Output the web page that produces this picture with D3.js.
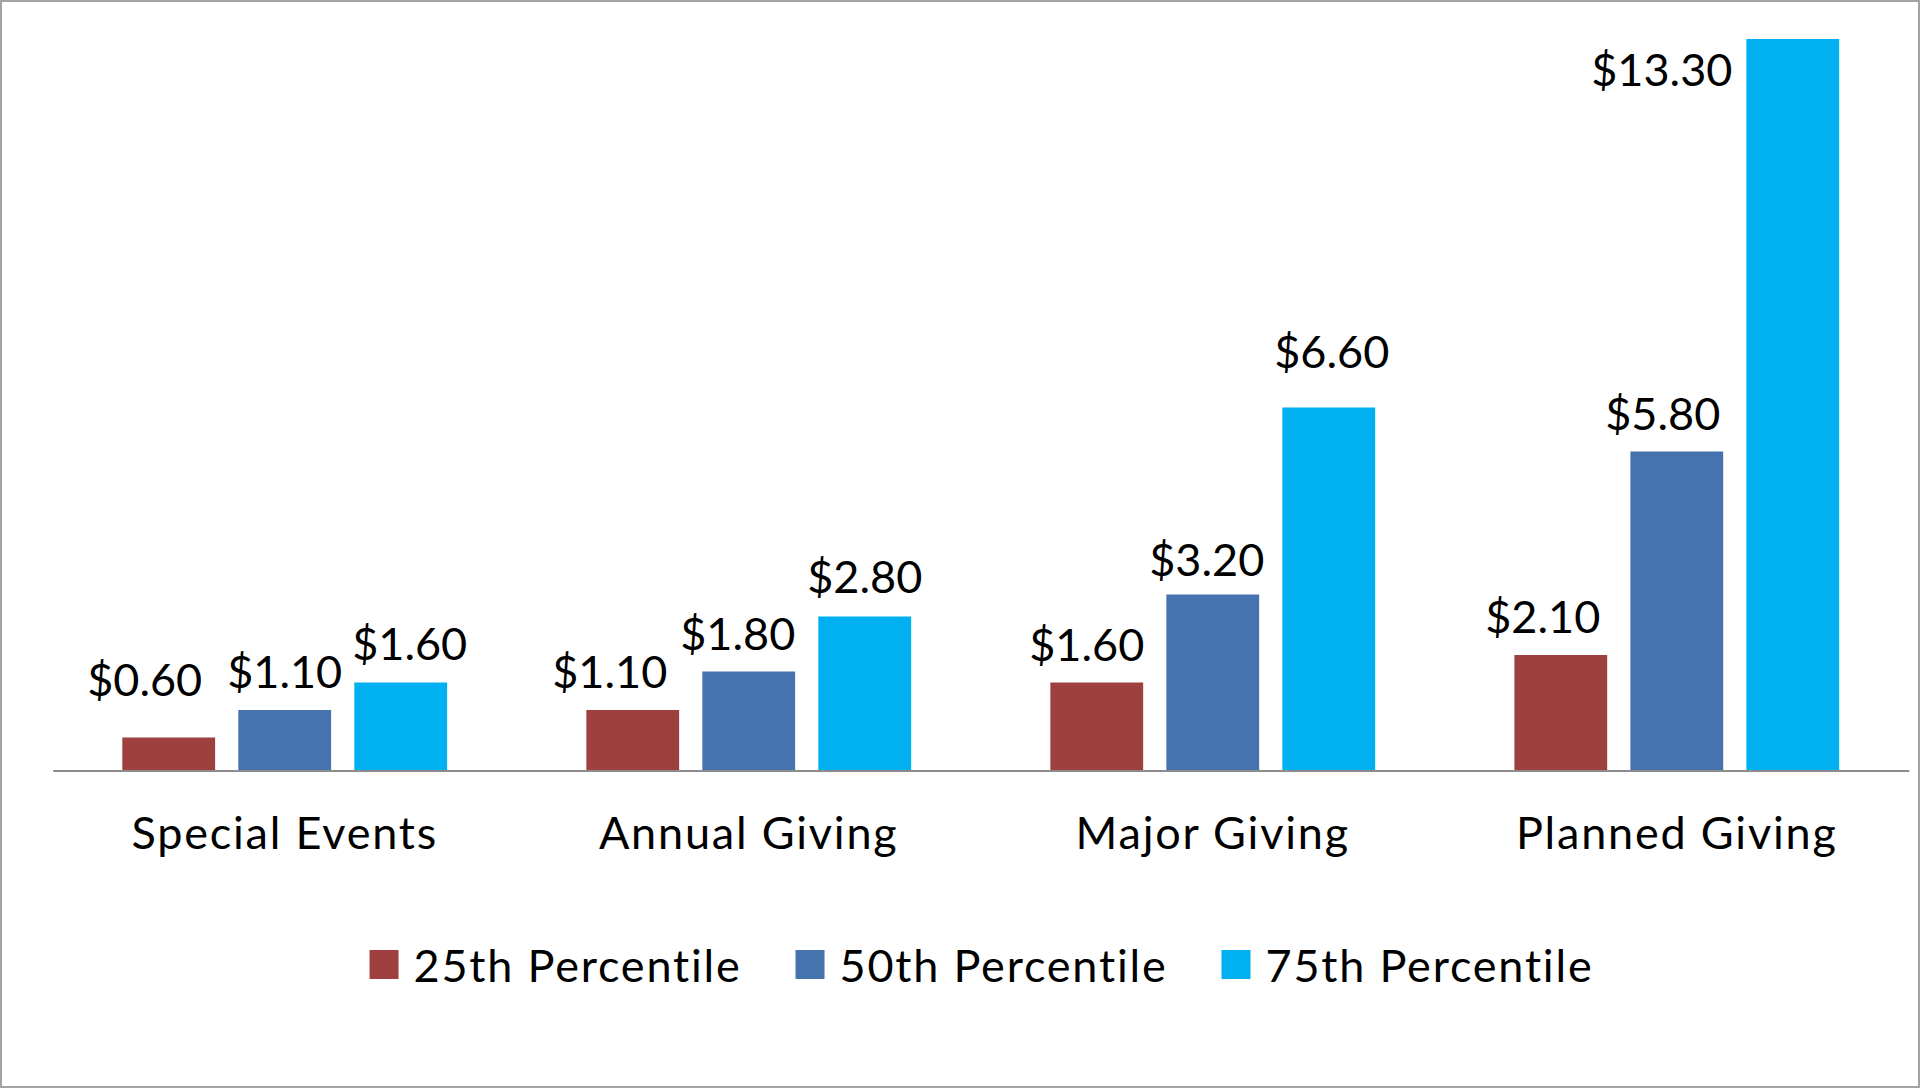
<!DOCTYPE html>
<html>
<head>
<meta charset="utf-8">
<script src="https://cdn.jsdelivr.net/npm/d3@7"></script>
<style>
  html, body { margin: 0; padding: 0; background: #fff; }
  svg { display: block; font-family: Lato, 'Open Sans', sans-serif; font-variant-ligatures: none; }
</style>
</head>
<body>
<svg id="chart" width="1921" height="1089"></svg>
<script>
const categories = ['Special Events', 'Annual Giving', 'Major Giving', 'Planned Giving']
const seriesNames = ['25th Percentile', '50th Percentile', '75th Percentile']
const p25 = [0.60, 1.10, 1.60, 2.10]
const p50 = [1.10, 1.80, 3.20, 5.80]
const p75 = [1.60, 2.80, 6.60, 13.30]
const seriesColors = ['#9E413E', '#4573AD', '#00B0F0']

// hand placed label nudges from the original [dx, dy], per category then series
const labelNudge = [
    [[-24, -20], [0, 0], [9, -1]],
    [[-23, 0], [-11, 0], [0, -2]],
    [[-10, 0], [-6, 3], [3, -18]],
    [[-18, 0], [-14, 0], [-131, 69]],
]

const width = 1921
const height = 1089
const axisY = 770.5
const plotLeft = 52.7
const plotRight = 1908.8

const svg = d3.select('#chart')

svg.append('rect')
    .attr('x', 1).attr('y', 1)
    .attr('width', width - 3).attr('height', height - 3)
    .attr('fill', '#fff')
    .attr('stroke', '#a3a3a3')
    .attr('stroke-width', 2)

const values = [p25, p50, p75]
const rows = categories.map((c, i) => ({
    category: c,
    vals: seriesNames.map((s, j) => ({series: s, idx: j, value: values[j][i], cat: i}))
}))

const xScale = d3.scaleBand().domain(categories).range([plotLeft, plotRight])
const subScale = d3.scaleBand().domain(seriesNames).range([0, xScale.bandwidth()])
    .paddingInner(0.2).paddingOuter(0.6)
const yScale = d3.scaleLinear().domain([0, 14]).range([axisY, 0.5])
const color = d3.scaleOrdinal().domain(seriesNames).range(seriesColors)

const groups = svg.append('g')
    .selectAll('g')
    .data(rows)
    .enter()
    .append('g')
    .attr('transform', d => `translate(${xScale(d.category)},0)`)

groups.selectAll('rect')
    .data(d => d.vals)
    .enter()
    .append('rect')
    .attr('x', d => subScale(d.series))
    .attr('y', d => yScale(d.value))
    .attr('width', subScale.bandwidth())
    .attr('height', d => yScale(0) - yScale(d.value))
    .style('fill', d => color(d.series))

groups.selectAll('text')
    .data(d => d.vals)
    .enter()
    .append('text')
    .attr('x', d => subScale(d.series) + subScale.bandwidth() / 2 + labelNudge[d.cat][d.idx][0])
    .attr('y', d => yScale(d.value) - 22 + labelNudge[d.cat][d.idx][1])
    .attr('text-anchor', 'middle')
    .style('font-size', '45px')
    .style('fill', '#000')
    .text(d => '$' + d.value.toFixed(2))

const xAxis = svg.append('g')
    .attr('transform', `translate(0,${axisY})`)
    .call(d3.axisBottom(xScale).tickSize(0).tickPadding(47))

xAxis.select('.domain')
    .attr('stroke', '#8c8c8c')
    .attr('stroke-width', 2)
xAxis.selectAll('text')
    .style('font-family', 'Lato, sans-serif')
    .style('font-size', '45px')
    .style('letter-spacing', '1.8px')
    .style('fill', '#000')

// legend, laid out from measured text widths
const legend = svg.append('g')
const items = legend.selectAll('g')
    .data(seriesNames)
    .enter()
    .append('g')

items.append('rect')
    .attr('width', 29).attr('height', 29)
    .attr('y', 950)
    .style('fill', d => color(d))

items.append('text')
    .attr('y', 982)
    .style('font-size', '45px')
    .style('letter-spacing', '1.8px')
    .style('fill', '#000')
    .text(d => d)

const swatchGap = 15
const itemGap = 54
const widths = []
items.select('text').each(function() { widths.push(this.getComputedTextLength()) })
const total = d3.sum(widths) + seriesNames.length * (29 + swatchGap) + itemGap * (seriesNames.length - 1)
let cursor = 981.5 - total / 2
items.each(function(d, i) {
    d3.select(this).select('rect').attr('x', cursor)
    d3.select(this).select('text').attr('x', cursor + 29 + swatchGap)
    cursor += 29 + swatchGap + widths[i] + itemGap
})
</script>
</body>
</html>
